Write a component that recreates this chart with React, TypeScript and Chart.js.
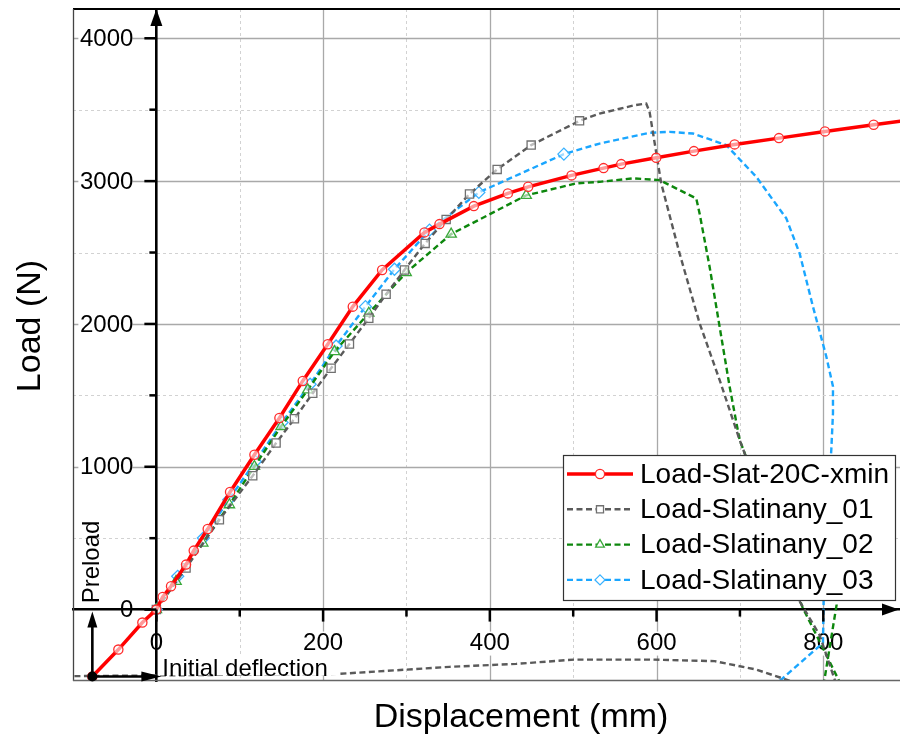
import React, { useEffect, useRef } from 'react';
import { Chart, registerables } from 'chart.js';

Chart.register(...registerables);

// ---------- axes ----------
const X_MIN = -100;
const X_MAX = 892;
const Y_MIN = -500;
const Y_MAX = 4205;
const X_TICKS = [-100, 0, 100, 200, 300, 400, 500, 600, 700, 800];
const X_LABELS = [0, 200, 400, 600, 800];
const Y_TICKS = [-500, 0, 500, 1000, 1500, 2000, 2500, 3000, 3500, 4000];
const Y_LABELS = [0, 1000, 2000, 3000, 4000];

const X_TITLE = 'Displacement (mm)';
const Y_TITLE = 'Load (N)';
const SERIES_NAMES = ['Load-Slat-20C-xmin', 'Load-Slatinany_01', 'Load-Slatinany_02', 'Load-Slatinany_03'];

// ---------- data ----------
const redX = [-76.8, -45.6, -16.8, 0, 7.6, 17.6, 35.6, 44.8, 61.6, 88.4, 117.6, 147.6, 175.6, 205.6, 235.6, 270.8, 321.6, 339.6, 380.8, 421.6, 446, 498, 536.4, 557.6, 599.6, 644.8, 693.6, 746.8, 802, 860.4, 918];
const redY = [-468, -280, -91, 0, 89, 163, 315, 413, 564, 823, 1084, 1341, 1601, 1858, 2121, 2378, 2641, 2699, 2825, 2914, 2960, 3040, 3091, 3119, 3163, 3210, 3257, 3301, 3348, 3395, 3440];

const s01X = [0, 35.6, 75.6, 115.6, 143.6, 165.6, 187.6, 209.6, 231.6, 254.8, 275.6, 297.6, 322.4, 347.6, 375.6, 408.8, 449.6, 507.6,
  531.6, 573.6, 587.6, 591.6, 605.6, 627.6, 651.6, 675.6, 699.6, 771.6, 795.6, 813.6, 825, 795, 755.6, 719.6, 669.6, 591.6, 501.6, 431.6, 351.6, 219.6, -100];
const s01Y = [0, 291, 629, 937, 1166, 1336, 1515, 1690, 1860, 2040, 2208, 2378, 2564, 2732, 2910, 3082, 3252, 3422,
  3473, 3531, 3543, 3486, 2984, 2494, 2005, 1608, 1189, 58, -179, -490, -600, -580, -490, -420, -361, -350, -350, -380, -401, -450, -466];
const S01_MARKED = 18;

const s02X = [0, 23.6, 55.6, 87.6, 117.6, 149.6, 181.6, 213.6, 254.8, 299.6, 353.6, 443.6,
  503.6, 531.6, 571.6, 603.6, 647.6, 651.6, 663.6, 675.6, 687.6, 699.6, 775.2, 795.6, 819, 822, 800, 816, 821];
const s02Y = [0, 198, 466, 734, 1002, 1282, 1538, 1806, 2075, 2359, 2629, 2900,
  2984, 2995, 3019, 3007, 2879, 2774, 2401, 1981, 1562, 1189, 14, -224, -500, -600, -540, 35, 400];
const S02_MARKED = 12;

const s03X = [0, 25.6, 56.4, 86.8, 118.8, 150.8, 184.4, 215.6, 250.8, 285.6, 327.6, 386.8, 488.8,
  531.6, 591.6, 615.6, 643.6, 683.6, 719.6, 755.6, 771.6, 787.6, 803.6, 811.6, 811.6, 809.6, 804, 800.4, 799.6, 749.6, 735];
const s03Y = [0, 233, 501, 769, 1037, 1310, 1578, 1846, 2121, 2383, 2657, 2921, 3189,
  3263, 3338, 3345, 3333, 3252, 3030, 2739, 2494, 2121, 1772, 1562, 1375, 1119, 600, 58, -233, -490, -540];
const S03_MARKED = 13;

const FONT = '"Liberation Sans", Arial, "DejaVu Sans", sans-serif';

const toPts = (xs: number[], ys: number[]) => xs.map((x, i) => ({ x, y: ys[i] }));

const STYLES = [
  { line: '#ff0000', width: 3.5, dash: [] as number[], marker: 'circle', mColor: '#ff2a2a', r: 4.6 },
  { line: '#5a5a5a', width: 2.4, dash: [6, 3.5], marker: 'rect', mColor: '#707070', r: 5.8 },
  { line: '#0d870d', width: 2.4, dash: [6, 3.5], marker: 'triangle', mColor: '#3aa83a', r: 6 },
  { line: '#1aa6ff', width: 2.4, dash: [6, 3.5], marker: 'rectRot', mColor: '#3ab2ff', r: 6 },
];

function drawMarker(ctx: CanvasRenderingContext2D, style: string, x: number, y: number, r: number, color: string) {
  ctx.save();
  ctx.setLineDash([]);
  ctx.strokeStyle = color;
  ctx.fillStyle = '#fff';
  ctx.lineWidth = 1.3;
  ctx.beginPath();
  if (style === 'circle') {
    ctx.arc(x, y, r, 0, Math.PI * 2);
  } else if (style === 'rect') {
    const s = r * Math.SQRT1_2;
    ctx.rect(x - s, y - s, 2 * s, 2 * s);
  } else if (style === 'triangle') {
    ctx.moveTo(x, y - r);
    ctx.lineTo(x + r * 0.866, y + r * 0.5);
    ctx.lineTo(x - r * 0.866, y + r * 0.5);
    ctx.closePath();
  } else {
    ctx.moveTo(x, y - r);
    ctx.lineTo(x + r, y);
    ctx.lineTo(x, y + r);
    ctx.lineTo(x - r, y);
    ctx.closePath();
  }
  ctx.fill();
  ctx.stroke();
  ctx.restore();
}

function arrowHead(ctx: CanvasRenderingContext2D, tx: number, ty: number, dx: number, dy: number, len: number, half: number) {
  const bx = tx - dx * len;
  const by = ty - dy * len;
  ctx.beginPath();
  ctx.moveTo(tx, ty);
  ctx.lineTo(bx - dy * half, by + dx * half);
  ctx.lineTo(bx + dy * half, by - dx * half);
  ctx.closePath();
  ctx.fill();
}

const zeroPadding = (s: any) => {
  s.paddingTop = 0;
  s.paddingBottom = 0;
  s.paddingLeft = 0;
  s.paddingRight = 0;
};

const decorPlugin = {
  id: 'decor',
  beforeDraw(chart: any) {
    const { ctx, chartArea: a, scales } = chart;
    const xs = scales.x;
    const ys = scales.y;
    ctx.save();
    ctx.fillStyle = '#fff';
    ctx.fillRect(0, 0, chart.width, chart.height);
    // grid
    for (const v of X_TICKS) {
      if (v === X_MIN || v === 0) continue;
      const px = Math.round(xs.getPixelForValue(v)) + 0.5;
      const major = v % 200 === 0;
      ctx.beginPath();
      ctx.setLineDash(major ? [] : [3, 3]);
      ctx.strokeStyle = major ? '#a9a9a9' : '#d2d2d2';
      ctx.lineWidth = major ? 1.3 : 1;
      ctx.moveTo(px, a.top);
      ctx.lineTo(px, a.bottom);
      ctx.stroke();
    }
    for (const v of Y_TICKS) {
      if (v === Y_MIN || v === 0) continue;
      const py = Math.round(ys.getPixelForValue(v)) + 0.5;
      const major = v % 1000 === 0;
      ctx.beginPath();
      ctx.setLineDash(major ? [] : [3, 3]);
      ctx.strokeStyle = major ? '#a9a9a9' : '#d2d2d2';
      ctx.lineWidth = major ? 1.3 : 1;
      ctx.moveTo(a.left, py);
      ctx.lineTo(a.right, py);
      ctx.stroke();
    }
    ctx.setLineDash([]);
    const x0 = xs.getPixelForValue(0);
    const y0 = ys.getPixelForValue(0);
    // tick labels (white behind the non-zero ones)
    ctx.font = `24px ${FONT}`;
    ctx.textBaseline = 'middle';
    ctx.textAlign = 'center';
    for (const v of X_LABELS) {
      const px = xs.getPixelForValue(v);
      if (v !== 0) {
        ctx.fillStyle = '#fff';
        ctx.fillRect(px - 22, y0 + 22, 44, 24);
      }
      ctx.fillStyle = '#000';
      ctx.fillText(String(v), px, y0 + 34);
    }
    ctx.textAlign = 'right';
    for (const v of Y_LABELS) {
      const py = ys.getPixelForValue(v);
      if (v !== 0) {
        ctx.fillStyle = '#fff';
        ctx.fillRect(x0 - 78, py - 11, 54, 22);
      }
      ctx.fillStyle = '#000';
      ctx.fillText(String(v), x0 - 23, py + 1);
    }
    ctx.restore();
  },
  afterDatasetsDraw(chart: any) {
    const { ctx, chartArea: a, scales } = chart;
    const xs = scales.x;
    const ys = scales.y;
    const x0 = xs.getPixelForValue(0);
    const y0 = ys.getPixelForValue(0);
    ctx.save();
    ctx.setLineDash([]);
    // frame
    ctx.strokeStyle = '#000';
    ctx.lineWidth = 2.2;
    ctx.beginPath();
    ctx.moveTo(a.left, a.top);
    ctx.lineTo(a.right, a.top);
    ctx.stroke();
    ctx.strokeStyle = '#444';
    ctx.lineWidth = 1.3;
    ctx.beginPath();
    ctx.moveTo(a.left + 0.5, a.top);
    ctx.lineTo(a.left + 0.5, a.bottom);
    ctx.stroke();
    ctx.strokeStyle = '#666';
    ctx.beginPath();
    ctx.moveTo(a.left, a.bottom - 0.5);
    ctx.lineTo(a.right, a.bottom - 0.5);
    ctx.stroke();
    // tick marks
    ctx.strokeStyle = '#000';
    ctx.lineWidth = 2.5;
    for (const v of X_TICKS) {
      if (v === X_MIN) continue;
      const px = xs.getPixelForValue(v);
      const len = v % 200 === 0 ? 12 : 7;
      ctx.beginPath();
      ctx.moveTo(px, y0);
      ctx.lineTo(px, y0 + len);
      ctx.stroke();
    }
    for (const v of Y_TICKS) {
      if (v === Y_MIN) continue;
      const py = ys.getPixelForValue(v);
      const len = v % 1000 === 0 ? 12 : 7;
      ctx.beginPath();
      ctx.moveTo(x0, py);
      ctx.lineTo(x0 - len, py);
      ctx.stroke();
    }
    // axis arrows
    ctx.fillStyle = '#000';
    arrowHead(ctx, x0, a.top, 0, -1, 17, 6);
    arrowHead(ctx, a.right - 1, y0, 1, 0, 17, 6);

    // annotations: preload / initial deflection
    const dx = xs.getPixelForValue(redX[0]);
    const dy = ys.getPixelForValue(redY[0]);
    ctx.fillStyle = '#fff';
    ctx.fillRect(x0 + 3, dy - 22, 178, 21);
    ctx.strokeStyle = '#000';
    ctx.lineWidth = 2.6;
    ctx.beginPath();
    ctx.moveTo(dx, dy);
    ctx.lineTo(dx, y0 + 14);
    ctx.stroke();
    ctx.beginPath();
    ctx.moveTo(dx, dy);
    ctx.lineTo(x0 - 12, dy);
    ctx.stroke();
    ctx.fillStyle = '#000';
    arrowHead(ctx, dx, y0 + 2, 0, -1, 16, 5);
    arrowHead(ctx, x0 + 5, dy, 1, 0, 20, 5);
    ctx.beginPath();
    ctx.arc(dx, dy, 5, 0, Math.PI * 2);
    ctx.fill();

    ctx.font = `24px ${FONT}`;
    ctx.textAlign = 'left';
    ctx.textBaseline = 'alphabetic';
    ctx.fillText('Initial deflection', x0 + 6, dy);
    ctx.save();
    ctx.translate(dx + 7, 562);
    ctx.rotate(-Math.PI / 2);
    ctx.textAlign = 'center';
    ctx.fillText('Preload', 0, 0);
    ctx.restore();

    // axis titles
    ctx.font = `34px ${FONT}`;
    ctx.textAlign = 'center';
    ctx.textBaseline = 'middle';
    ctx.fillText(X_TITLE, 521, 718);
    ctx.save();
    ctx.translate(31, 326);
    ctx.rotate(-Math.PI / 2);
    ctx.fillText(Y_TITLE, 0, 0);
    ctx.restore();

    // legend
    const lx = 563.5;
    const ly = 455.5;
    const lw = 332;
    const lh = 145;
    ctx.fillStyle = '#fff';
    ctx.fillRect(lx, ly, lw, lh);
    ctx.strokeStyle = '#333';
    ctx.lineWidth = 1.2;
    ctx.strokeRect(lx, ly, lw, lh);
    ctx.font = `28px ${FONT}`;
    ctx.textAlign = 'left';
    ctx.textBaseline = 'middle';
    SERIES_NAMES.forEach((name, i) => {
      const st = STYLES[i];
      const cy = 474 + i * 35.3;
      ctx.strokeStyle = st.line;
      ctx.lineWidth = i === 0 ? 3.5 : 2.4;
      ctx.setLineDash(st.dash);
      ctx.beginPath();
      ctx.moveTo(567, cy);
      ctx.lineTo(633, cy);
      ctx.stroke();
      ctx.setLineDash([]);
      drawMarker(ctx, st.marker, 600, cy, i === 0 ? 4.6 : 5, st.mColor);
      ctx.fillStyle = '#000';
      ctx.fillText(name, 640, cy + 1);
    });
    ctx.restore();
  },
};

export default function App() {
  const ref = useRef<HTMLCanvasElement | null>(null);
  useEffect(() => {
    if (!ref.current) return;
    const series = [toPts(redX, redY), toPts(s01X, s01Y), toPts(s02X, s02Y), toPts(s03X, s03Y)];
    const marked = [redX.length, S01_MARKED, S02_MARKED, S03_MARKED];
    const datasets = series.map((data, i) => {
      const st = STYLES[i];
      return {
        label: SERIES_NAMES[i],
        data,
        showLine: true,
        borderColor: st.line,
        borderWidth: st.width,
        borderDash: st.dash,
        tension: 0,
        pointStyle: st.marker,
        pointRadius: (c: any) => (c.dataIndex < marked[i] ? st.r : 0),
        pointHoverRadius: 0,
        pointHitRadius: 0,
        pointBackgroundColor: 'rgba(255,255,255,0.6)',
        pointBorderColor: st.mColor,
        pointBorderWidth: 1.3,
        order: i,
      };
    });
    const chart = new Chart(ref.current, {
      type: 'scatter',
      data: { datasets },
      plugins: [decorPlugin],
      options: {
        animation: false,
        responsive: false,
        devicePixelRatio: 1,
        layout: { autoPadding: false, padding: { left: 73, top: 9, right: 0, bottom: 63 } },
        plugins: { legend: { display: false }, tooltip: { enabled: false } },
        scales: {
          x: {
            type: 'linear',
            position: { y: 0 },
            min: X_MIN,
            max: X_MAX,
            afterBuildTicks: (s: any) => { s.ticks = X_TICKS.map((v) => ({ value: v })); },
            afterFit: zeroPadding,
            ticks: { display: false },
            grid: { display: false, drawTicks: false },
            border: { display: true, color: '#000', width: 2.6 },
          },
          y: {
            type: 'linear',
            position: { x: 0 },
            min: Y_MIN,
            max: Y_MAX,
            afterBuildTicks: (s: any) => { s.ticks = Y_TICKS.map((v) => ({ value: v })); },
            afterFit: zeroPadding,
            ticks: { display: false },
            grid: { display: false, drawTicks: false },
            border: { display: true, color: '#000', width: 2.6 },
          },
        },
      },
    });
    return () => chart.destroy();
  }, []);
  return (
    <div style={{ position: 'absolute', left: 0, top: 0, width: 900, height: 744, background: '#fff' }}>
      <canvas ref={ref} width={900} height={744} style={{ width: 900, height: 744, display: 'block' }} />
    </div>
  );
}
